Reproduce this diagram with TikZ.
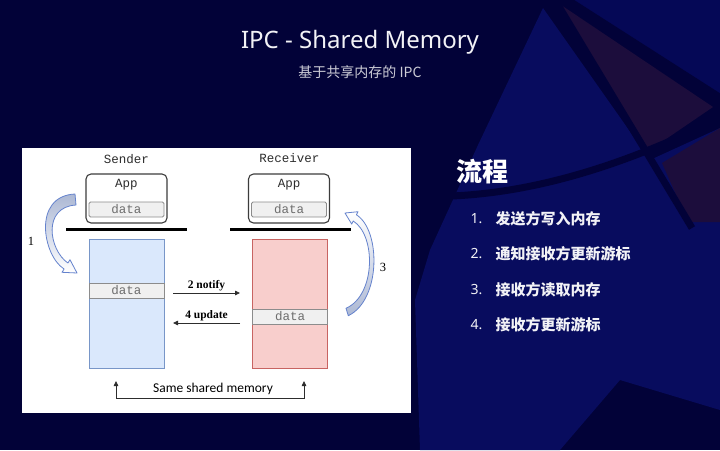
\documentclass[tikz,border=0pt]{standalone}
\usepackage{fontspec}
\setmainfont{Noto Sans}
\newfontfamily\cjkfont{Noto Sans CJK SC}
\newfontfamily\codefont{Liberation Mono}
\newfontfamily\numfont{Liberation Serif}
\newfontfamily\capfont{Carlito}
\usetikzlibrary{shapes, arrows.meta, positioning, calc}

\begin{document}
\begin{tikzpicture}[
    x=1pt, y=-1pt,
    >={Triangle[length=5pt, width=4.5pt]},
    % Define colors
    /utils/exec={
        \definecolor{ipcNavy}{RGB}{2, 2, 56}
        \definecolor{ipcBlue}{RGB}{8, 12, 94}
        \definecolor{ipcDeep}{RGB}{5, 8, 86}
        \definecolor{ipcMaroon}{RGB}{28, 13, 60}
        \definecolor{ipcTitle}{RGB}{242, 242, 246}
        \definecolor{ipcSub}{RGB}{205, 205, 215}
        \definecolor{ipcText}{RGB}{45, 45, 45}
        \definecolor{ipcEdge}{RGB}{60, 60, 60}
        \definecolor{ipcDataFill}{RGB}{240, 240, 240}
        \definecolor{ipcDataEdge}{RGB}{140, 140, 140}
        \definecolor{ipcDataText}{RGB}{110, 110, 110}
        \definecolor{memBlue}{RGB}{218, 232, 252}
        \definecolor{memBlueLine}{RGB}{120, 150, 200}
        \definecolor{memRed}{RGB}{248, 206, 204}
        \definecolor{memRedLine}{RGB}{200, 100, 98}
        \definecolor{bendLine}{RGB}{100, 130, 205}
        \definecolor{bendFill}{RGB}{172, 184, 212}
    },
    % Node Styles
    panel/.style={fill=white, minimum width=389pt, minimum height=265pt, inner sep=0pt},
    appbox/.style={
        draw=ipcEdge, fill=white, line width=1.1pt, rounded corners=5pt,
        minimum width=81pt, minimum height=49pt, inner sep=0pt
    },
    codetext/.style={font=\codefont\fontsize{12.5}{12.5}\selectfont, text=ipcText, inner sep=0pt},
    databox/.style={
        draw=ipcDataEdge, fill=ipcDataFill, line width=0.8pt,
        minimum width=75pt, minimum height=15pt, inner sep=0pt,
        font=\codefont\fontsize{12.5}{12.5}\selectfont, text=ipcDataText
    },
    memcol/.style={line width=0.9pt, minimum width=75pt, minimum height=129pt, inner sep=0pt},
    shelf/.style={fill=black, minimum width=121pt, minimum height=3pt, inner sep=0pt},
    msg/.style={->, line width=0.8pt, ipcText},
    msgLabel/.style={font=\numfont\bfseries\fontsize{11.5}{11.5}\selectfont, text=black, inner sep=1.5pt},
    stepNum/.style={font=\bfseries\fontsize{14}{14}\selectfont, text=ipcTitle, anchor=west},
    stepText/.style={font=\cjkfont\bfseries\fontsize{15}{15}\selectfont, text=ipcTitle, anchor=west},
    bendArrow/.style={draw=bendLine, line width=0.8pt, line join=round},
    seam/.style={draw=ipcNavy, line width=7pt}
]

\useasboundingbox (0,0) rectangle (720,450);

% =================================================================
% BACKDROP
% =================================================================
\fill[ipcNavy] (0,0) rectangle (720,450);
\fill[ipcBlue] (543,8) -- (650,160) -- (720,128) -- (720,410) -- (620,380)
    -- (560,450) -- (420,450) -- (415,300) -- (430,250) -- (478,145) -- cycle;
\fill[ipcDeep] (563,0) -- (720,0) -- (720,100) -- cycle;
\fill[ipcMaroon] (558,3) -- (713,107) -- (647,152) -- cycle;
\fill[ipcMaroon] (662,163) -- (720,128) -- (720,222) -- (688,222) -- cycle;
\draw[seam] (552,-5) -- (692,228);
\draw[seam] (563,-3) -- (724,100);
\draw[seam] (411,196) .. controls (500,200) and (600,178) .. (724,116);

% =================================================================
% TITLE
% =================================================================
\node[font=\fontsize{24}{24}\selectfont, text=ipcTitle] (title) at (360,42) {IPC - Shared Memory};
\node[font=\cjkfont\fontsize{14}{14}\selectfont, text=ipcSub] (subtitle) at (360,72) {基于共享内存的 IPC};

% =================================================================
% LEFT SIDE: DIAGRAM
% =================================================================
\node[panel] (diagramPanel) at (216.5,280.5) {};

% --- Sender ---
\node[codetext] (senderLbl) at (126.5,159) {Sender};
\node[appbox] (senderApp) at (126.5,198.5) {};
\node[codetext, below=6pt of senderApp.north] (senderAppLbl) {App};
\node[databox, rounded corners=1.5pt] (senderAppData) at (126.5,209.5) {data};
\node[shelf] (senderShelf) at (126.5,229) {};
\node[memcol, fill=memBlue, draw=memBlueLine] (senderMem) at (126.5,303.5) {};
\node[databox] (senderMemData) at (126.5,290.5) {data};

% --- Receiver ---
\node[codetext] (receiverLbl) at (289.5,158) {Receiver};
\node[appbox] (receiverApp) at (289,198.5) {};
\node[codetext, below=6pt of receiverApp.north] (receiverAppLbl) {App};
\node[databox, rounded corners=1.5pt] (receiverAppData) at (289,209.5) {data};
\node[shelf] (receiverShelf) at (290,229) {};
\node[memcol, fill=memRed, draw=memRedLine] (receiverMem) at (290,303.5) {};
\node[databox] (receiverMemData) at (290,316.5) {data};

% --- Notify / update ---
\coordinate (notifyFrom) at (173,293);
\coordinate (notifyTo) at (240,293);
\draw[msg] (notifyFrom) -- node[msgLabel, above] (notifyLbl) {2 notify} (notifyTo);

\coordinate (updateFrom) at (240,323);
\coordinate (updateTo) at (173,323);
\draw[msg] (updateFrom) -- node[msgLabel, above] (updateLbl) {4 update} (updateTo);

% --- Step 1: write (curved arrow) ---
\draw[bendArrow, top color=bendFill, bottom color=white]
    (75,194) .. controls (32,196) and (43,256) .. (64.1,269) -- (62,272.3) -- (77,273)
    -- (70,259.7) -- (67.9,263) .. controls (49,250) and (42,207) .. (76,205) -- cycle;
\node[font=\numfont\fontsize{12.5}{12.5}\selectfont] (stepOneLbl) at (31,241) {1};

% --- Step 3: read (curved arrow) ---
\draw[bendArrow, top color=white, bottom color=bendFill]
    (348.3,315.7) .. controls (381,300) and (381,230) .. (356.4,214.8) -- (358,211.7) -- (345,213)
    -- (351.7,224.1) -- (353.2,221) .. controls (376,235) and (376,295) .. (346,308.3) -- cycle;
\node[font=\numfont\fontsize{12.5}{12.5}\selectfont] (stepThreeLbl) at (383,267) {3};

% --- Same shared memory ---
\node[font=\capfont\fontsize{13.5}{13.5}\selectfont, text=black] (sameMemLbl) at (213,389) {Same shared memory};
\coordinate (sameTipL) at (116,381);
\coordinate (sameTipR) at (304,381);
\draw[msg, <->] (sameTipL) -- ++(0,17) -| (sameTipR);

% =================================================================
% RIGHT SIDE: STEPS
% =================================================================
\node[font=\cjkfont\bfseries\fontsize{26}{26}\selectfont, text=white, anchor=west] (flowTitle) at (453,172) {流程};

\node[stepNum] (numOne) at (467,219) {1.};
\node[stepText] (stepOne) at (492,219) {发送方写入内存};
\node[stepNum] (numTwo) at (467,254) {2.};
\node[stepText] (stepTwo) at (492,254) {通知接收方更新游标};
\node[stepNum] (numThree) at (467,290) {3.};
\node[stepText] (stepThree) at (492,290) {接收方读取内存};
\node[stepNum] (numFour) at (467,325) {4.};
\node[stepText] (stepFour) at (492,325) {接收方更新游标};

\end{tikzpicture}
\end{document}
